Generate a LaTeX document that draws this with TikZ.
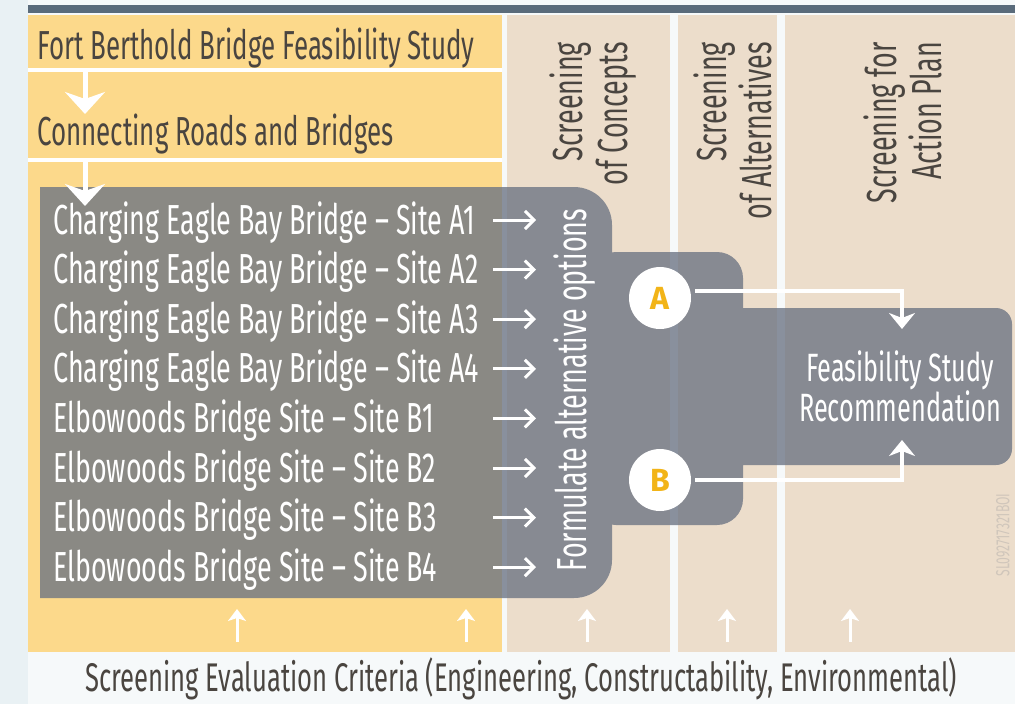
\documentclass[tikz,border=0pt]{standalone}
\usepackage{fontspec}
\setmainfont{Fira Sans}
\newfontfamily\cf{Fira Sans}[FakeStretch=0.64]
\usetikzlibrary{arrows.meta}
\definecolor{yel}{HTML}{FCD98B}
\definecolor{beige}{HTML}{ECDDCB}
\definecolor{bar}{HTML}{5A6B7B}
\definecolor{boxgray}{HTML}{6B7383}
\definecolor{ink}{HTML}{4A4540}
\definecolor{letter}{HTML}{F2B418}
\definecolor{wm}{HTML}{D0C6BB}
\definecolor{bgl}{HTML}{F6F9FA}
\definecolor{bgs}{HTML}{E9F1F4}
\tikzset{
  rowtext/.style={anchor=base west, inner sep=0pt, text=white, font=\cf\fontsize{42}{44}\selectfont},
  titletext/.style={anchor=base west, inner sep=0pt, text=ink, font=\cf\fontsize{40.5}{44}\selectfont},
  headtext/.style={rotate=90, anchor=east, inner sep=0pt, align=right, text=ink, font=\cf\fontsize{42}{45}\selectfont},
  rowarrow/.style={white, line width=3pt, -{Straight Barb[length=9pt,width=18pt,line width=3pt]}},
  downarrow/.style={white, line width=5pt, -{Stealth[length=22pt,width=40pt,inset=7pt]}},
  uparrow/.style={white, line width=3pt, -{Stealth[length=12pt,width=18pt,inset=3pt]}},
  connarrow/.style={white, line width=4pt, -{Stealth[length=16pt,width=26pt,inset=5pt]}},
  badge/.style={circle, fill=white, minimum size=62pt, inner sep=0pt, text=letter, font=\bfseries\fontsize{32}{32}\selectfont},
}
\begin{document}
\begin{tikzpicture}[x=1pt,y=-1pt]
\useasboundingbox (0,0) rectangle (1015,704);
% background
\fill[bgl] (0,0) rectangle (1015,704);
\fill[bgs] (0,0) rectangle (28,704);
% top bar
\fill[bar] (28,5) rectangle (1015,13);
% panels
\fill[yel] (28,15) rectangle (502,652);
\fill[beige] (507,15) rectangle (670,652);
\fill[beige] (678,15) rectangle (777,652);
\fill[beige] (785,15) rectangle (1015,652);
\draw[white, line width=4pt] (28,70) -- (502,70);
\draw[white, line width=4pt] (28,160) -- (502,160);
% titles
\node[titletext] (t1) at (37,59) {Fort Berthold Bridge Feasibility Study};
\node[titletext] (t2) at (37,145) {Connecting Roads and Bridges};
% column headers
\node[headtext] (h1) at (593,42) {Screening\\of Concepts};
\node[headtext] (h2) at (733,42) {Screening\\of Alternatives};
\node[headtext] (h3) at (903,42) {Screening for\\Action Plan};
% gray boxes (one path, union)
\fill[boxgray, fill opacity=0.78]
  (40,187) rectangle (560,598)
  [rounded corners=38pt] (500,187) rectangle (612,598)
  [rounded corners=26pt] (590,252) rectangle (743,525)
  [rounded corners=16pt] (720,308) rectangle (1012,465);
% down arrows
\coordinate (d1s) at (85,72);
\coordinate (d1e) at (85,114);
\coordinate (d2s) at (85,162);
\coordinate (d2e) at (85,206);
\draw[downarrow] (d1s) -- (d1e);
\draw[downarrow] (d2s) -- (d2e);
% rows
\foreach \i/\t in {0/Charging Eagle Bay Bridge – Site A1,1/Charging Eagle Bay Bridge – Site A2,2/Charging Eagle Bay Bridge – Site A3,3/Charging Eagle Bay Bridge – Site A4,4/Elbowoods Bridge Site – Site B1,5/Elbowoods Bridge Site – Site B2,6/Elbowoods Bridge Site – Site B3,7/Elbowoods Bridge Site – Site B4}{
  \pgfmathsetmacro{\yy}{220+49.6*\i}
  \node[rowtext] (r\i) at (53,\yy+14) {\t};
  \coordinate (as\i) at (493,\yy);
  \coordinate (ae\i) at (536,\yy);
  \draw[rowarrow] (as\i) -- (ae\i);
}
\node[rotate=90, inner sep=0pt, text=white, font=\cf\fontsize{42}{44}\selectfont] (form) at (575,390) {Formulate alternative options};
% badges and recommendation
\node[align=center, inner sep=0pt, text=white, font=\cf\fontsize{39.5}{36}\selectfont] (rec) at (900,386) {Feasibility Study\\Recommendation};
\coordinate (recN) at (902,329);
\coordinate (recS) at (902,440);
\node[badge] (A) at (660,298) {A};
\node[badge] (B) at (660,480) {B};
\draw[connarrow] ([xshift=4pt,yshift=7pt]A.east) -| (recN);
\draw[connarrow] ([xshift=4pt]B.east) -| (recS);
% up arrows
\foreach \x/\n in {237/1,466/2,587/3,727/4,850/5}{
  \coordinate (us\n) at (\x,642);
  \coordinate (ue\n) at (\x,609);
  \draw[uparrow] (us\n) -- (ue\n);
}
% bottom text
\node[inner sep=0pt, text=ink, font=\cf\fontsize{40}{44}\selectfont] (crit) at (521,679) {Screening Evaluation Criteria (Engineering, Constructability, Environmental)};
% watermark
\node[rotate=90, inner sep=0pt, text=wm, font=\cf\fontsize{19}{20}\selectfont] (wmk) at (1003,535) {SL092717321BOI};
\end{tikzpicture}
\end{document}
